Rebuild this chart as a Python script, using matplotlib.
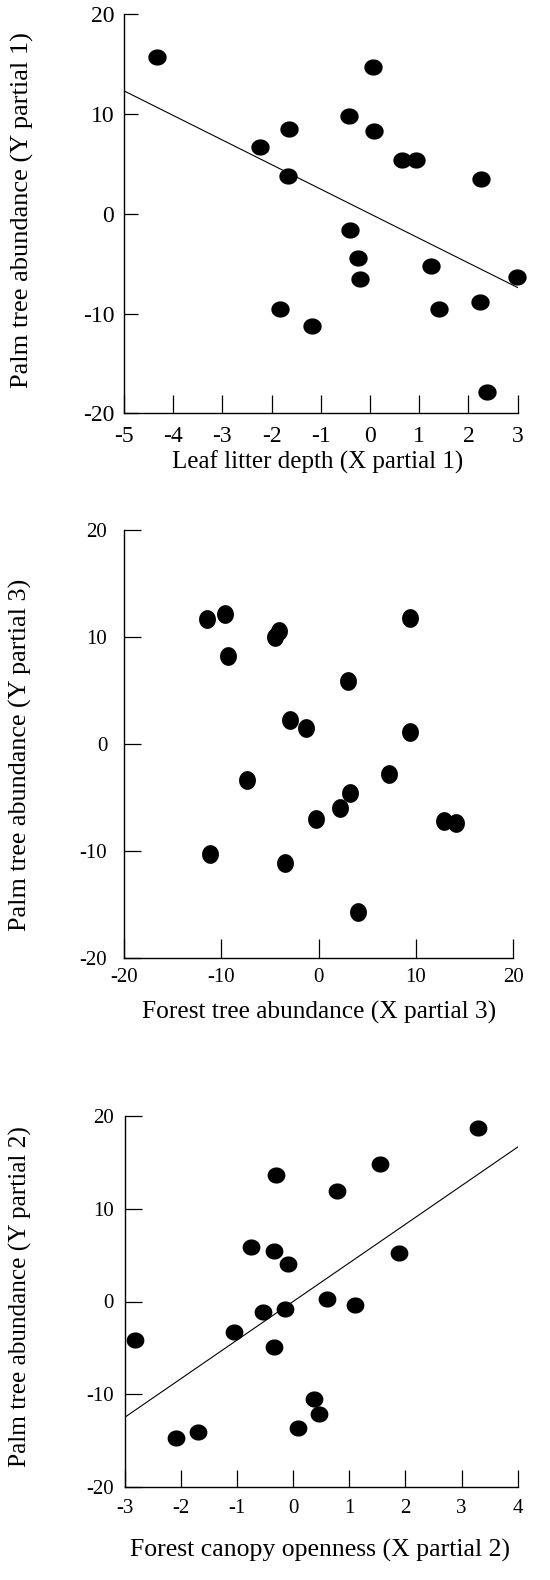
import numpy as np
import matplotlib
matplotlib.use("Agg")
import matplotlib.pyplot as plt
from matplotlib.path import Path

plt.rcParams['font.family'] = ['Liberation Serif', 'DejaVu Serif']
plt.rcParams['axes.unicode_minus'] = False

# panel 1: leaf litter depth
leaf_x = [-4.32, 0.06, -0.43, -1.64, 0.07, -2.23, 0.64, 0.94, 2.26, -1.66,
          -0.41, -0.25, -0.20, 1.23, 2.98, -1.82, 1.40, 2.24, -1.17, 2.37]
leaf_y = [15.7, 14.7, 9.8, 8.5, 8.3, 6.7, 5.35, 5.35, 3.44, 3.8,
          -1.64, -4.45, -6.55, -5.28, -6.35, -9.56, -9.56, -8.89, -11.26, -17.9]
leaf_slope = -2.465

# panel 2: forest tree abundance
tree_x = [-11.47, -9.66, -9.28, -4.49, -4.08, 9.35, 3.05, -2.98, -1.34, 9.35,
          -7.36, 7.26, 3.25, 2.23, -0.27, 12.88, 14.14, -11.13, -3.42, 4.08]
tree_y = [11.7, 12.15, 8.22, 10.0, 10.5, 11.74, 5.89, 2.27, 1.53, 1.09,
          -3.36, -2.80, -4.55, -5.95, -7.01, -7.23, -7.35, -10.22, -11.06, -15.64]

# panel 3: forest canopy openness
canopy_x = [3.29, 1.54, -0.31, 0.79, -0.75, -0.34, -0.09, 1.88, 0.60, 1.11,
            -0.53, -0.15, -1.05, -2.81, -0.34, 0.37, 0.46, 0.09, -1.69, -2.09]
canopy_y = [18.7, 14.8, 13.7, 11.9, 5.86, 5.43, 4.06, 5.22, 0.22, -0.43,
            -1.12, -0.83, -3.24, -4.21, -4.89, -10.54, -12.16, -13.63, -14.1, -14.78]
canopy_slope = 4.17


def ellipse_marker(sx, sy):
    t = np.linspace(0, 2 * np.pi, 60)
    verts = np.column_stack([sx * np.cos(t), sy * np.sin(t)])
    return Path(verts, closed=True)


W, H = 550, 1580
fig = plt.figure(figsize=(W / 100, H / 100), dpi=100)


def make_axes(l, r, t, b):
    return fig.add_axes([l / W, 1 - b / H, (r - l) / W, (b - t) / H])


def style(ax, xlim, xticks, tick_fs, xlen, ylen, xpad, ypad):
    ax.set_xlim(*xlim)
    ax.set_ylim(-20, 20)
    ax.spines['top'].set_visible(False)
    ax.spines['right'].set_visible(False)
    for s in ['left', 'bottom']:
        ax.spines[s].set_linewidth(1.0)
    ax.set_xticks(xticks)
    ax.set_yticks([-20, -10, 0, 10, 20])
    ax.tick_params(axis='x', direction='in', length=xlen, width=0.9,
                   labelsize=tick_fs, pad=xpad)
    ax.tick_params(axis='y', direction='in', length=ylen, width=0.9,
                   labelsize=tick_fs, pad=ypad)


# ---- panel 1
ax1 = make_axes(124, 517.7, 14.3, 413.3)
style(ax1, (-5, 3), range(-5, 4), 17, 13, 10, 9, 7)
ax1.scatter(leaf_x, leaf_y, s=13.2 ** 2, marker=ellipse_marker(1.13, 1.0),
            color='black', linewidths=0, clip_on=False, zorder=3)
lx = np.array([-5, 3])
ax1.plot(lx, leaf_slope * lx, color='black', lw=0.8)
fig.text(318 / W, 1 - 462 / H, 'Leaf litter depth (X partial 1)',
         ha='center', va='center', fontsize=18)
fig.text(22 / W, 1 - 210 / H, 'Palm tree abundance (Y partial 1)',
         ha='center', va='center', rotation=90, fontsize=19)

# ---- panel 2
ax2 = make_axes(124, 513.3, 529.7, 958.3)
style(ax2, (-20, 20), [-20, -10, 0, 10, 20], 15, 14, 12, 7, 12)
ax2.scatter(tree_x, tree_y, s=13.5 ** 2, marker=ellipse_marker(0.9, 1.0),
            color='black', linewidths=0, clip_on=False, zorder=3)
fig.text(319 / W, 1 - 1012 / H, 'Forest tree abundance (X partial 3)',
         ha='center', va='center', fontsize=18.3)
fig.text(20 / W, 1 - 755 / H, 'Palm tree abundance (Y partial 3)',
         ha='center', va='center', rotation=90, fontsize=18.8)

# ---- panel 3
ax3 = make_axes(124.7, 517.7, 1116.3, 1486.7)
style(ax3, (-3, 4), range(-3, 5), 15, 12, 12, 9, 8)
ax3.scatter(canopy_x, canopy_y, s=12.8 ** 2, marker=ellipse_marker(1.1, 1.0),
            color='black', linewidths=0, clip_on=False, zorder=3)
cx = np.array([-2.97, 4])
ax3.plot(cx, canopy_slope * cx, color='black', lw=0.8)
fig.text(320 / W, 1 - 1550 / H, 'Forest canopy openness (X partial 2)',
         ha='center', va='center', fontsize=18.5)
fig.text(20 / W, 1 - 1297 / H, 'Palm tree abundance (Y partial 2)',
         ha='center', va='center', rotation=90, fontsize=18.2)

fig.savefig('out.png', dpi=100)
